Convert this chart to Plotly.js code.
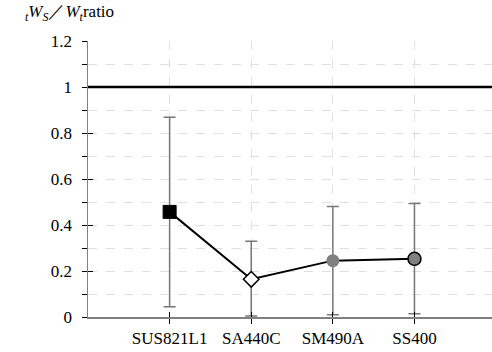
<!DOCTYPE html>
<html><head><meta charset="utf-8">
<script src="https://cdn.plot.ly/plotly-3.0.1.min.js"></script>
<style>html,body{margin:0;padding:0;background:#fff;overflow:hidden}
#warm{position:absolute;left:0;top:0;z-index:0;color:#fff;font-family:'Liberation Serif';font-size:17px;line-height:20px}
#chart{position:absolute;left:0;top:0;z-index:1}
#chart text, #chart tspan { font-family: 'Liberation Serif', serif !important; }</style>
</head><body>
<div id="warm">SUS821L1 SA440C<br>SM490A SS400 0.2<br><i>W ratio</i></div>
<div id="chart" style="width:492px;height:352px"></div>
<script>
const categories = ['SUS821L1', 'SA440C', 'SM490A', 'SS400'];
const ratio = [0.457, 0.164, 0.245, 0.253];
const errUpper = [0.868, 0.329, 0.480, 0.494];
const errLower = [0.045, 0.004, 0.010, 0.014];
const refLevel = 1;
const yTickVals = [0, 0.2, 0.4, 0.6, 0.8, 1, 1.2];
const yTickText = ['0', '0.2', '0.4', '0.6', '0.8', '1', '1.2'];

const trace = {
  x: categories, y: ratio, type: 'scatter', mode: 'lines+markers',
  line: {color: '#000', width: 2},
  marker: {
    symbol: ['square', 'diamond', 'circle', 'circle'],
    size: [13, 12, 13, 13], opacity: 1,
    color: ['#000000', '#ffffff', '#808080', '#808080'],
    line: {color: ['#000000', '#000000', '#808080', '#000000'], width: [1, 1.5, 0, 1.5]}
  },
  error_y: {
    type: 'data', symmetric: false,
    array: errUpper.map((u, i) => u - ratio[i]),
    arrayminus: ratio.map((v, i) => v - errLower[i]),
    color: '#777', thickness: 1.5, width: 6
  },
  cliponaxis: false, showlegend: false, hoverinfo: 'none'
};
const ghost = {x: categories, y: ratio, xaxis: 'x2', yaxis: 'y2', type: 'scatter', mode: 'markers',
  marker: {opacity: 0}, showlegend: false, hoverinfo: 'none'};

const layout = {
  width: 492, height: 352,
  margin: {l: 88, r: 0, t: 41, b: 35},
  paper_bgcolor: '#fff', plot_bgcolor: '#fff',
  font: {family: 'Liberation Serif', size: 17, color: '#000'}, showlegend: false,
  xaxis: {
    type: 'category', range: [-1, 3.95],
    showline: true, linecolor: '#808080', linewidth: 1.5,
    ticks: 'outside', ticklen: 5, tickcolor: '#000', tickwidth: 1,
    showgrid: true, gridcolor: '#e0e0e0', griddash: 'dash', gridwidth: 1,
    zeroline: false
  },
  yaxis: {
    range: [0, 1.2], tickvals: yTickVals, ticktext: yTickText,
    showline: true, linecolor: '#808080', linewidth: 1.5,
    ticks: 'outside', ticklen: 5, tickcolor: '#000', tickwidth: 1,
    showgrid: true, gridcolor: '#e0e0e0', griddash: 'dash', gridwidth: 1,
    minor: {dtick: 0.1, ticks: 'outside', ticklen: 5, tickcolor: '#000', showgrid: true, gridcolor: '#e0e0e0', griddash: 'dash'},
    zeroline: false, ticklabelstandoff: 6
  },
  xaxis2: {
    type: 'category', overlaying: 'x', matches: 'x', range: [-1, 3.95],
    ticks: 'inside', ticklen: 5, tickcolor: '#000', tickwidth: 1,
    showticklabels: false, showgrid: false, zeroline: false, showline: false
  },
  yaxis2: {
    overlaying: 'y', range: [0, 1.2], tickvals: yTickVals,
    ticks: 'inside', ticklen: 5, tickcolor: '#000', tickwidth: 1,
    showticklabels: false, showgrid: false, zeroline: false, showline: false
  },
  shapes: [{type: 'line', xref: 'paper', yref: 'y', x0: 0, x1: 1, y0: refLevel, y1: refLevel,
    line: {color: '#000', width: 2.5}}],
  annotations: [{
    xref: 'paper', yref: 'paper', x: -0.16, y: 1.0, yshift: 28, xanchor: 'left', yanchor: 'middle',
    showarrow: false,
    text: '<sub><i>t</i></sub><i>W<sub>S</sub></i>／<i>W<sub>t</sub></i>ratio'
  }]
};
Plotly.newPlot('chart', [trace, ghost], layout, {displayModeBar: false, staticPlot: true});
</script>
</body></html>
